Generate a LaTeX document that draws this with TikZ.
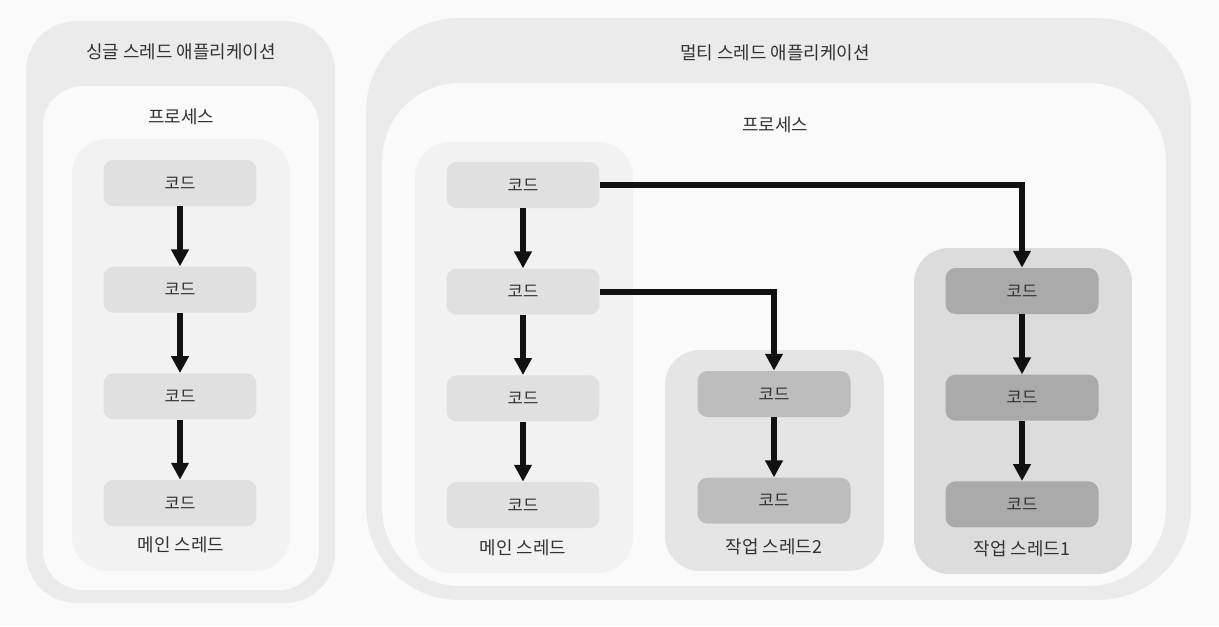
\documentclass[tikz,border=0pt]{standalone}
\usepackage{fontspec}
\setmainfont{Noto Sans CJK KR}
\usetikzlibrary{positioning,arrows.meta}
\definecolor{bgGray}{HTML}{FAFAFA}
\definecolor{appGray}{HTML}{EBEBEB}
\definecolor{procGray}{HTML}{FAFAFA}
\definecolor{mainGray}{HTML}{F2F2F2}
\definecolor{codeGray}{HTML}{E0E0E0}
\definecolor{workTwoGray}{HTML}{E5E5E5}
\definecolor{codeTwoGray}{HTML}{BDBDBD}
\definecolor{workOneGray}{HTML}{DCDCDC}
\definecolor{codeOneGray}{HTML}{AAAAAA}
\definecolor{lineBlack}{HTML}{111111}
\definecolor{txtGray}{HTML}{333333}

\begin{document}
\begin{tikzpicture}[x=0.02cm,y=-0.02cm,node distance=1.2cm,>={Triangle[width=9.6pt,length=9.6pt]}]
  \tikzstyle{cont}=[inner sep=0pt,draw=none]
  \tikzstyle{box}=[rounded corners=0.2cm,inner sep=0pt,minimum width=3.06cm,minimum height=0.92cm,text=txtGray,font=\fontsize{9.5}{11}\selectfont]
  \tikzstyle{title}=[text=txtGray,font=\fontsize{10.2}{12}\selectfont]
  \tikzstyle{flow}=[->,line width=3.4pt,draw=lineBlack]
  \fill[bgGray] (0,0) rectangle (1219,626);
  \useasboundingbox (0,0) rectangle (1219,626);
  % single thread application
  \node[cont,fill=appGray,rounded corners=1cm,minimum width=6.18cm,minimum height=11.64cm] (sapp) at (180.5,312) {};
  \node[cont,fill=procGray,rounded corners=0.8cm,minimum width=5.52cm,minimum height=10.08cm] (sproc) at (181,338) {};
  \node[cont,fill=mainGray,rounded corners=0.7cm,minimum width=4.36cm,minimum height=8.64cm] (smain) at (181,355) {};
  \node[title] (tsapp) at (181,52) {싱글 스레드 애플리케이션};
  \node[title] (tsproc) at (181,117) {프로세스};
  \node[title] (tsmain) at (181,545) {메인 스레드};
  \node[box,fill=codeGray] (sc1) at (180,183) {코드};
  \node[box,below=of sc1,fill=codeGray] (sc2) {코드};
  \node[box,below=of sc2,fill=codeGray] (sc3) {코드};
  \node[box,below=of sc3,fill=codeGray] (sc4) {코드};
  \draw[flow] (sc1) -- (sc2);
  \draw[flow] (sc2) -- (sc3);
  \draw[flow] (sc3) -- (sc4);
  % multi thread application
  \node[cont,fill=appGray,rounded corners=1.86cm,minimum width=16.5cm,minimum height=11.64cm] (mapp) at (778.5,309) {};
  \node[cont,fill=procGray,rounded corners=1.56cm,minimum width=15.68cm,minimum height=10.06cm] (mproc) at (774,334.5) {};
  \node[cont,fill=mainGray,rounded corners=0.7cm,minimum width=4.36cm,minimum height=8.62cm] (mmain) at (524,357.5) {};
  \node[cont,fill=workTwoGray,rounded corners=0.7cm,minimum width=4.38cm,minimum height=4.42cm] (wtwo) at (774.5,460.5) {};
  \node[cont,fill=workOneGray,rounded corners=0.7cm,minimum width=4.36cm,minimum height=6.52cm] (wone) at (1023,411) {};
  \node[title] (tmapp) at (775,53) {멀티 스레드 애플리케이션};
  \node[title] (tmproc) at (775,125) {프로세스};
  \node[title] (tmmain) at (523,548) {메인 스레드};
  \node[title] (twtwo) at (774,547) {작업 스레드2};
  \node[title] (twone) at (1022,549) {작업 스레드1};
  \node[box,fill=codeGray] (mc1) at (523,185) {코드};
  \node[box,below=of mc1,fill=codeGray] (mc2) {코드};
  \node[box,below=of mc2,fill=codeGray] (mc3) {코드};
  \node[box,below=of mc3,fill=codeGray] (mc4) {코드};
  \node[box,fill=codeTwoGray] (wb1) at (774,394) {코드};
  \node[box,below=of wb1,fill=codeTwoGray] (wb2) {코드};
  \node[box,fill=codeOneGray] (wa1) at (1022,291) {코드};
  \node[box,below=of wa1,fill=codeOneGray] (wa2) {코드};
  \node[box,below=of wa2,fill=codeOneGray] (wa3) {코드};
  \draw[flow] (mc1) -- (mc2);
  \draw[flow] (mc2) -- (mc3);
  \draw[flow] (mc3) -- (mc4);
  \draw[flow] (wb1) -- (wb2);
  \draw[flow] (wa1) -- (wa2);
  \draw[flow] (wa2) -- (wa3);
  \draw[flow] (mc1.east) -| (wa1.north);
  \draw[flow] (mc2.east) -| (wb1.north);
\end{tikzpicture}
\end{document}
